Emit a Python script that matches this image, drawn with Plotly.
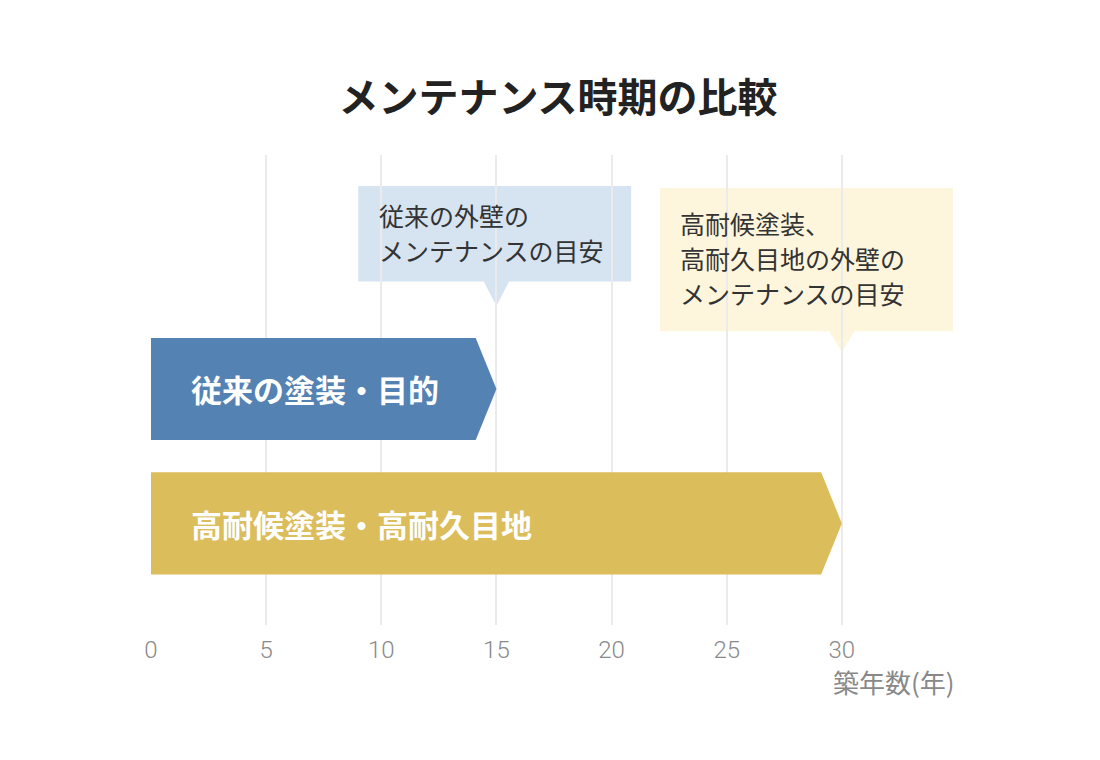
import plotly.graph_objects as go

# data
plans = ["従来の塗装・目的", "高耐候塗装・高耐久目地"]
years = [15, 30]
rows = [1, 0]
callout_lines = [
    ["従来の外壁の", "メンテナンスの目安"],
    ["高耐候塗装、", "高耐久目地の外壁の", "メンテナンスの目安"],
]
tick_years = [0, 5, 10, 15, 20, 25, 30]

# styles
bar_colors = ["#5482b3", "#dbbd5b"]
callout_colors = ["#d6e3f0", "#fdf6dc"]
# (left offset, right offset, bottom, top) relative to the year the callout points at
callout_boxes = [(-6.0, 5.85, 1.80, 2.51), (-7.9, 4.82, 1.43, 2.494)]
callout_tips = [1.617, 1.275]
line_gap = 0.26
half_h = 0.38
tip_len = 0.9
JP = "Noto Sans CJK JP"

fig = go.Figure()

for name, val, row, col in zip(plans, years, rows, bar_colors):
    xs = [0, val - tip_len, val, val - tip_len, 0, 0]
    ys = [row + half_h, row + half_h, row, row - half_h, row - half_h, row + half_h]
    fig.add_trace(go.Scatter(
        x=xs, y=ys, mode="lines", fill="toself", fillcolor=col,
        line=dict(width=0), hoverinfo="skip", showlegend=False,
    ))
    fig.add_annotation(
        x=1.65, y=row, xref="x", yref="y", text="<b>" + name + "</b>",
        showarrow=False, xanchor="left", yanchor="middle",
        font=dict(family=JP, size=31, color="white"),
    )

for val, lines, col, box, tip in zip(years, callout_lines, callout_colors,
                                     callout_boxes, callout_tips):
    l, r, b, t = val + box[0], val + box[1], box[2], box[3]
    path = (f"M{l},{t} L{r},{t} L{r},{b} L{val + 0.55},{b} L{val},{tip} "
            f"L{val - 0.55},{b} L{l},{b} Z")
    fig.add_shape(type="path", path=path, xref="x", yref="y",
                  fillcolor=col, line=dict(width=0), layer="below")
    mid = (t + b) / 2 + 0.01
    for i, line in enumerate(lines):
        fig.add_annotation(
            x=l + 0.8, y=mid + ((len(lines) - 1) / 2 - i) * line_gap,
            xref="x", yref="y", text=line,
            showarrow=False, xanchor="left", yanchor="middle", align="left",
            font=dict(family=JP, size=25, color="#333333"),
        )

fig.add_annotation(
    x=1, y=-0.12, xref="paper", yref="paper", text="築年数(年)",
    showarrow=False, xanchor="right", yanchor="middle",
    font=dict(family=JP, size=26, color="#888888"),
)

fig.update_layout(
    width=1100, height=760,
    margin=dict(l=143, r=151, t=147, b=143),
    paper_bgcolor="white", plot_bgcolor="white",
    title=dict(
        text="<b>メンテナンス時期の比較</b>", x=0.5, xanchor="center",
        y=1 - 90 / 760, yanchor="middle", yref="container",
        font=dict(family=JP, size=40, color="#222222"),
    ),
    xaxis=dict(
        range=[0, 35], tickvals=tick_years, ticktext=[str(v) for v in tick_years],
        showgrid=True, gridcolor="#ebebeb", gridwidth=2, zeroline=False,
        showline=False, ticks="", ticklabelstandoff=8,
        tickfont=dict(family="Roboto", size=24, color="#8a8a8a", weight=300),
        fixedrange=True,
    ),
    yaxis=dict(range=[-0.755, 2.74], visible=False, fixedrange=True),
    showlegend=False,
)

fig.write_html("out.html")
